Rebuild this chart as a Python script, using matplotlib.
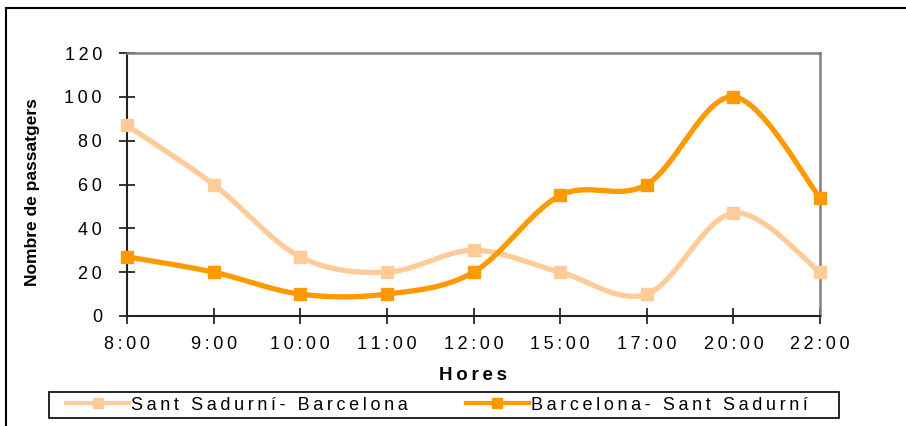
import numpy as np
import matplotlib
matplotlib.use("Agg")
import matplotlib.pyplot as plt
from matplotlib.patches import Rectangle

hours = ["8:00", "9:00", "10:00", "11:00", "12:00", "15:00", "17:00", "20:00", "22:00"]
sant_sadurni_bcn = [87, 60, 27, 20, 30, 20, 10, 47, 20]
bcn_sant_sadurni = [27, 20, 10, 10, 20, 55, 60, 100, 54]
series_names = ["Sant Sadurní- Barcelona", "Barcelona- Sant Sadurní"]
series_colors = ["#FFCC99", "#FF9900"]
y_ticks = [0, 20, 40, 60, 80, 100, 120]

plt.rcParams['font.family'] = ['Liberation Sans', 'DejaVu Sans']

SP = "\u2009"


def spaced(s):
    return SP.join(list(s))


def smooth(xs, ys, n=40):
    xs = np.asarray(xs, float)
    ys = np.asarray(ys, float)
    px = np.concatenate([[xs[0]], xs, [xs[-1]]])
    py = np.concatenate([[ys[0]], ys, [ys[-1]]])
    outx, outy = [], []
    t = np.linspace(0, 1, n)
    for i in range(1, len(px) - 2):
        p0x, p1x, p2x, p3x = px[i - 1], px[i], px[i + 1], px[i + 2]
        p0y, p1y, p2y, p3y = py[i - 1], py[i], py[i + 1], py[i + 2]
        c1x = p1x + (p2x - p0x) / 6
        c1y = p1y + (p2y - p0y) / 6
        c2x = p2x - (p3x - p1x) / 6
        c2y = p2y - (p3y - p1y) / 6
        bx = (1 - t) ** 3 * p1x + 3 * (1 - t) ** 2 * t * c1x + 3 * (1 - t) * t ** 2 * c2x + t ** 3 * p2x
        by = (1 - t) ** 3 * p1y + 3 * (1 - t) ** 2 * t * c1y + 3 * (1 - t) * t ** 2 * c2y + t ** 3 * p2y
        outx.extend(bx)
        outy.extend(by)
    return np.array(outx), np.array(outy)


W, H = 906, 426
fig = plt.figure(figsize=(W / 100, H / 100), dpi=100)
ax = fig.add_axes([127 / W, 1 - 316 / H, (820 - 127) / W, (316 - 53) / H])

x = np.arange(len(hours))
handles = []
for vals, col, name in zip([sant_sadurni_bcn, bcn_sant_sadurni], series_colors, series_names):
    sx, sy = smooth(x, vals)
    ax.plot(sx, sy, color=col, lw=3.8, solid_capstyle='butt', zorder=3, clip_on=False)
    ax.plot(x, vals, ls='none', marker='s', ms=8.5, color=col, mec=col, zorder=4, clip_on=False)
    h, = ax.plot([], [], color=col, lw=3.0, marker='s', ms=7.5, mec=col)
    handles.append(h)

ax.set_xlim(0, len(hours) - 1)
ax.set_ylim(0, 120)
ax.set_yticks(y_ticks)
ax.set_yticklabels([spaced(str(v)) for v in y_ticks])
ax.set_xticks(x)
ax.set_xticklabels([spaced(h) for h in hours])

ax.tick_params(axis='both', direction='inout', length=12, width=1.1, colors='black', labelsize=13)
ax.tick_params(axis='y', pad=12)
ax.tick_params(axis='x', pad=8.5)

for s in ['left', 'bottom']:
    ax.spines[s].set_color('#222222')
    ax.spines[s].set_linewidth(1.5)
for s in ['top', 'right']:
    ax.spines[s].set_color('#808080')
    ax.spines[s].set_linewidth(1.8)

ax.set_ylabel("Nombre de passatgers", fontsize=12.5, fontweight='bold')
ax.yaxis.set_label_coords((40 - 127) / (820 - 127), 0.473)
fig.text(473 / W, 1 - 376 / H, spaced("Hores"), fontsize=13.5, fontweight='bold', ha='center', va='center')

leg = fig.legend(handles, [spaced(n) for n in series_names], loc='center left',
                 bbox_to_anchor=(66 / W, 1 - 405 / H), ncol=2, frameon=False, fontsize=13,
                 handlelength=3.5, handletextpad=0.1, borderpad=0, borderaxespad=0,
                 columnspacing=3.2)

fig.patches.append(Rectangle((49 / W, 1 - 418 / H), (839 - 49) / W, 26 / H, transform=fig.transFigure,
                             fill=False, edgecolor='black', lw=1.2, zorder=0))
fig.patches.append(Rectangle((6 / W, -0.1), 1.2, 1 - 8 / H + 0.1, transform=fig.transFigure,
                             fill=False, edgecolor='black', lw=1.5, zorder=0))

fig.savefig("out.png", dpi=100)
